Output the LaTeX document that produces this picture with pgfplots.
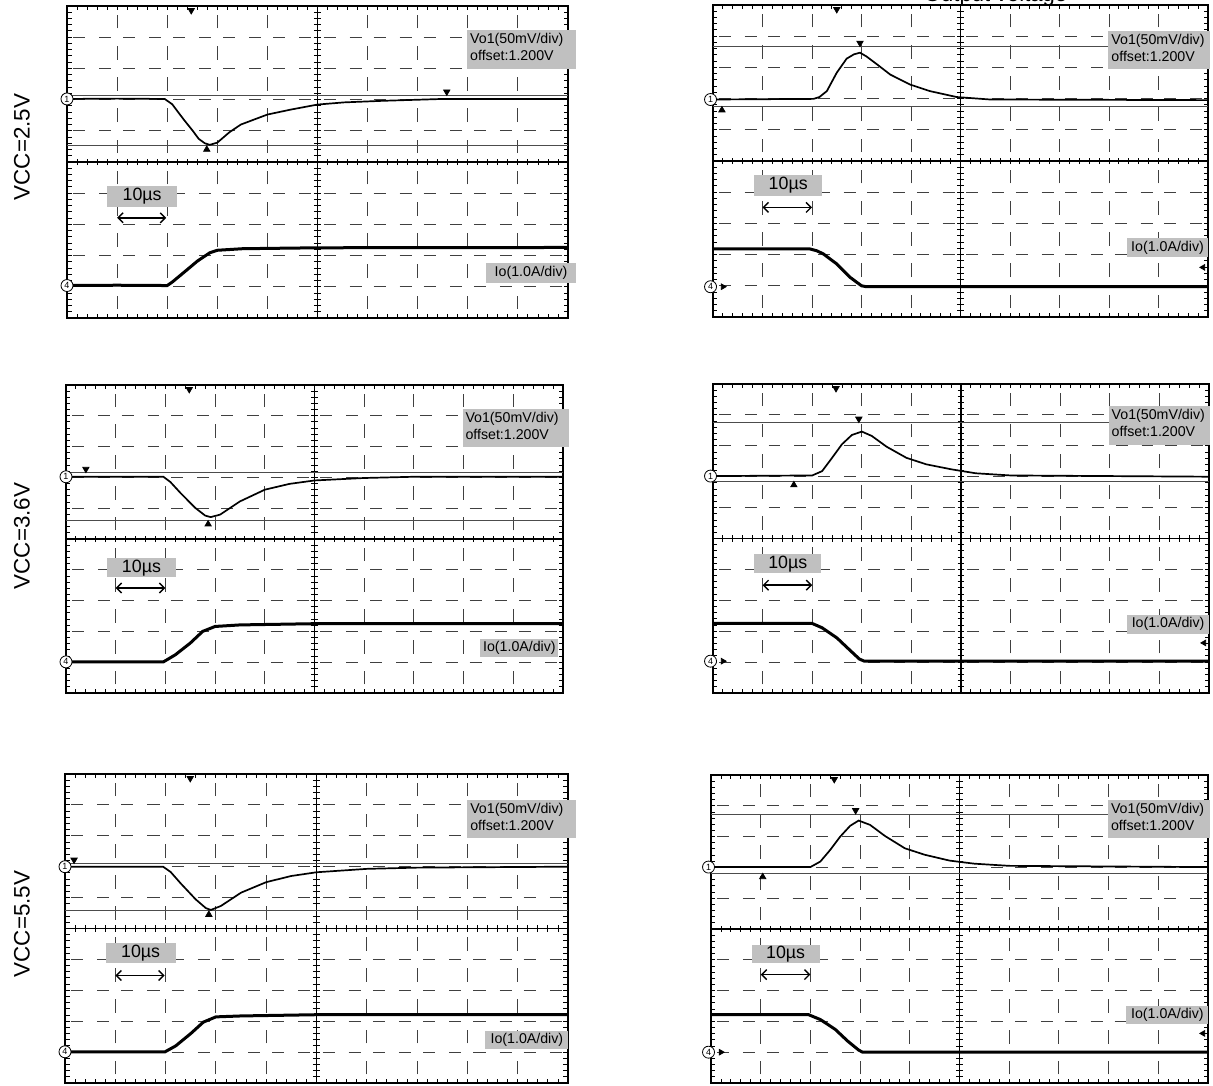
\documentclass[border=0pt]{standalone}
\usepackage{fontspec}
\setmainfont{Liberation Sans}
\usepackage{pgfplots}
\pgfplotsset{compat=1.18}
\usetikzlibrary{arrows.meta}
\definecolor{boxgray}{RGB}{192,192,192}
\newcommand\lbl{\fontsize{7.1}{8.4}\selectfont}
\newcommand\tfont{\fontsize{8.9}{10}\selectfont}

\newcommand\panel[4]{%
\begin{scope}[shift={(#1,#2)},x=#3,y=#4]
\foreach \i in {1,2,3,4,6,7,8,9}{\foreach \j in {0,...,9}{%
\draw[black!75,line width=0.5pt] (\j+0.12,\i)--(\j+0.36,\i) (\j+0.64,\i)--(\j+0.88,\i) (\i,\j+0.28)--(\i,\j+0.72);}}
\draw[black,line width=0.6pt] (5,0)--(5,10) (0,5)--(10,5);
\foreach \k in {1,...,49}{\draw[black,line width=0.45pt] (\k/5,0)--++(0,0.14) (\k/5,10)--++(0,-0.14) (\k/5,4.9)--(\k/5,5.1) (0,\k/5)--++(0.09,0) (10,\k/5)--++(-0.09,0) (4.93,\k/5)--(5.07,\k/5);}
\draw[black,line width=1pt] (0,0) rectangle (10,10);
\end{scope}}

\newcommand\vobox[4]{\node[fill=boxgray,anchor=north west,minimum width=#3,minimum height=#4,inner sep=0pt] (vb) at (axis cs:#1,#2) {};
\node[anchor=north west,align=left,inner sep=0pt,font=\lbl] at ([xshift=1.5pt,yshift=-1.6pt]vb.north west) {Vo1(50mV/div)\\offset:1.200V};}
\newcommand\tenus[4]{\node[fill=boxgray,anchor=north west,minimum width=#3,minimum height=#4,inner sep=0pt,font=\tfont] at (axis cs:#1,#2) {10µs};}
\newcommand\iobox[4]{\node[fill=boxgray,anchor=north west,minimum width=#3,minimum height=#4,inner sep=0pt,font=\lbl] at (axis cs:#1,#2) {Io(1.0A/div)};}
\newcommand\arr[2]{\draw[{Straight Barb[length=2.5pt,width=5pt]}-{Straight Barb[length=2.5pt,width=5pt]},line width=0.7pt] (axis cs:1.0,#1) -- (axis cs:#2,#1);}
\newcommand\chan[3]{\node[circle,draw,fill=white,inner sep=0pt,minimum size=6pt,font=\fontsize{4.5}{5}\selectfont,line width=0.4pt] at (axis cs:#1,#2) {#3};}
\newcommand\cursors[2]{\draw[black!70,line width=0.5pt] (axis cs:0,#1)--(axis cs:10,#1) (axis cs:0,#2)--(axis cs:10,#2);}
\newcommand\downmark[2]{\addplot[only marks,mark=triangle*,mark size=1.8pt,mark options={rotate=180,fill=black,draw=black}] coordinates {(#1,#2)};}
\newcommand\upmark[2]{\addplot[only marks,mark=triangle*,mark size=1.8pt,mark options={fill=black,draw=black}] coordinates {(#1,#2)};}
\newcommand\lmark[2]{\addplot[only marks,mark=triangle*,mark size=1.6pt,mark options={rotate=90,fill=black,draw=black}] coordinates {(#1,#2)};}
\newcommand\rmark[2]{\addplot[only marks,mark=triangle*,mark size=1.6pt,mark options={rotate=-90,fill=black,draw=black}] coordinates {(#1,#2)};}

\pgfplotsset{osc/.style={anchor=south west,scale only axis,xmin=0,xmax=10,ymin=-5,ymax=5,hide axis,clip=false},
vo/.style={black,line width=0.85pt,mark=none},
io/.style={black,line width=1.5pt,mark=none}}

\begin{document}
\begin{tikzpicture}
\useasboundingbox (0,0) rectangle (606.5pt,542.5pt);
% panel grids
\panel{33.5pt}{383.5pt}{25.05pt}{15.6pt}
\panel{356.5pt}{384pt}{24.75pt}{15.6pt}
\panel{33pt}{196pt}{24.85pt}{15.4pt}
\panel{356.5pt}{196pt}{24.8pt}{15.45pt}
\panel{32.5pt}{1pt}{25.15pt}{15.45pt}
\panel{355.5pt}{1pt}{24.85pt}{15.4pt}

\node[anchor=base west,font=\fontsize{11}{13}\selectfont] at (458.5pt,541.5pt) {Output voltage};
\node[rotate=90,font=\fontsize{11.2}{13}\selectfont] at (11pt,469pt) {VCC=2.5V};
\node[rotate=90,font=\fontsize{11.2}{13}\selectfont] at (11pt,274.5pt) {VCC=3.6V};
\node[rotate=90,font=\fontsize{11.2}{13}\selectfont] at (11pt,80.5pt) {VCC=5.5V};

% ---------- A: top left ----------
\begin{axis}[osc,at={(33.5pt,383.5pt)},width=250.5pt,height=156pt]
\cursors{2.13}{0.52}
\addplot[vo] coordinates {(0,2.02) (1.0,2.03) (1.95,2.02) (2.1,1.85) (2.33,1.36) (2.5,1.02) (2.63,0.74) (2.75,0.6) (2.85,0.55) (3.0,0.62) (3.24,0.95) (3.47,1.20) (4.0,1.52) (4.47,1.68) (5.0,1.84) (5.53,1.91) (6.3,1.96) (7.5,2.02) (10,2.02)};
\addplot[io] coordinates {(0,-3.96) (1.0,-3.95) (2.0,-3.96) (2.1,-3.85) (2.4,-3.45) (2.6,-3.18) (2.85,-2.91) (3.0,-2.83) (3.5,-2.78) (5,-2.75) (10,-2.74)};
\vobox{7.98}{4.24}{54.3pt}{19.7pt}
\tenus{0.8}{-0.76}{34.6pt}{10.3pt}
\iobox{8.36}{-3.23}{44.8pt}{9.7pt}
\arr{-1.79}{1.98}
\chan{0}{2.02}{1}\chan{0}{-3.96}{4}
\downmark{2.48}{4.86}\downmark{7.58}{2.25}\upmark{2.79}{0.40}
\end{axis}

% ---------- B: top right ----------
\begin{axis}[osc,at={(356.5pt,384pt)},width=247.5pt,height=156pt]
\cursors{3.66}{1.75}
\addplot[vo] coordinates {(0,1.97) (2.03,1.99) (2.15,2.05) (2.3,2.24) (2.5,2.83) (2.7,3.28) (2.85,3.42) (2.97,3.47) (3.1,3.35) (3.31,3.10) (3.58,2.77) (3.98,2.45) (4.38,2.24) (4.92,2.05) (5.6,1.97) (10,1.95)};
\addplot[io] coordinates {(0,-2.82) (1.96,-2.82) (2.1,-2.88) (2.23,-2.98) (2.5,-3.30) (2.77,-3.73) (3.0,-4.0) (3.1,-4.03) (10,-4.03)};
\vobox{7.98}{4.17}{50.7pt}{18.9pt}
\tenus{0.82}{-0.45}{34.2pt}{10.1pt}
\iobox{8.35}{-2.46}{40.8pt}{9.4pt}
\arr{-1.49}{2.0}
\chan{-0.05}{1.97}{1}\chan{-0.05}{-4.03}{4}\rmark{0.2}{-4.03}
\lmark{9.9}{-3.41}
\downmark{2.5}{4.86}\downmark{2.97}{3.78}\upmark{0.18}{1.63}
\end{axis}

% ---------- C: middle left ----------
\begin{axis}[osc,at={(33pt,196pt)},width=248.5pt,height=154pt]
\cursors{2.15}{0.60}
\addplot[vo] coordinates {(0,2.02) (1.96,2.02) (2.1,1.85) (2.3,1.50) (2.6,1.01) (2.8,0.76) (2.91,0.71) (3.1,0.79) (3.5,1.22) (4.0,1.60) (4.5,1.79) (5.0,1.90) (6,1.98) (7,2.02) (10,2.02)};
\addplot[io] coordinates {(0,-3.99) (1.96,-3.99) (2.2,-3.76) (2.5,-3.38) (2.75,-3.0) (3.0,-2.84) (3.5,-2.79) (5,-2.75) (10,-2.75)};
\vobox{7.97}{4.23}{53pt}{19pt}
\tenus{0.81}{-0.62}{34.8pt}{9.5pt}
\iobox{8.33}{-3.22}{39pt}{9pt}
\arr{-1.59}{2.0}
\chan{0}{2.02}{1}\chan{0}{-3.99}{4}
\downmark{2.48}{4.86}\downmark{0.4}{2.27}\upmark{2.86}{0.48}
\end{axis}

% ---------- D: middle right ----------
\begin{axis}[osc,at={(356.5pt,196pt)},width=248pt,height=154.5pt]
\cursors{3.75}{1.85}
\addplot[vo] coordinates {(0,2.02) (2.0,2.04) (2.2,2.18) (2.4,2.61) (2.6,3.05) (2.8,3.35) (3.0,3.46) (3.2,3.32) (3.5,2.97) (3.9,2.61) (4.3,2.40) (4.8,2.24) (5.3,2.11) (6,2.04) (10,2.0)};
\addplot[io] coordinates {(0,-2.75) (2.0,-2.75) (2.2,-2.89) (2.5,-3.22) (2.75,-3.6) (2.95,-3.9) (3.05,-3.97) (10,-3.97)};
\vobox{7.97}{4.3}{50.8pt}{19.5pt}
\tenus{0.82}{-0.5}{33.7pt}{9.4pt}
\iobox{8.34}{-2.46}{41pt}{9.3pt}
\arr{-1.51}{2.0}
\chan{-0.05}{2.02}{1}\chan{-0.05}{-3.97}{4}\rmark{0.2}{-3.97}
\lmark{9.9}{-3.38}
\downmark{2.48}{4.86}\downmark{2.94}{3.87}\upmark{1.63}{1.73}
\end{axis}

% ---------- E: bottom left ----------
\begin{axis}[osc,at={(32.5pt,1pt)},width=251.5pt,height=154.5pt]
\cursors{2.10}{0.57}
\addplot[vo] coordinates {(0,2.0) (1.95,2.0) (2.1,1.83) (2.3,1.46) (2.6,0.94) (2.8,0.66) (2.9,0.60) (3.1,0.73) (3.5,1.16) (4.0,1.50) (4.5,1.70) (5.0,1.82) (6,1.93) (7,1.97) (10,2.0)};
\addplot[io] coordinates {(0,-3.99) (1.99,-3.99) (2.2,-3.80) (2.5,-3.40) (2.75,-3.03) (3.0,-2.86) (3.5,-2.83) (5,-2.79) (10,-2.79)};
\vobox{7.99}{4.18}{54.3pt}{18.9pt}
\tenus{0.8}{-0.47}{35pt}{10pt}
\iobox{8.35}{-3.29}{41.5pt}{9.1pt}
\arr{-1.52}{1.98}
\chan{0}{2.0}{1}\chan{0}{-3.99}{4}
\downmark{2.49}{4.86}\downmark{0.18}{2.22}\upmark{2.86}{0.45}
\end{axis}

% ---------- F: bottom right ----------
\begin{axis}[osc,at={(355.5pt,1pt)},width=248.5pt,height=154pt]
\cursors{3.73}{1.81}
\addplot[vo] coordinates {(0,2.01) (2.0,2.01) (2.2,2.19) (2.4,2.57) (2.6,3.0) (2.8,3.35) (2.97,3.52) (3.2,3.38) (3.5,3.02) (3.9,2.62) (4.3,2.41) (4.8,2.22) (5.3,2.12) (6,2.05) (10,2.01)};
\addplot[io] coordinates {(0,-2.78) (1.96,-2.78) (2.2,-2.94) (2.5,-3.26) (2.75,-3.64) (2.97,-3.93) (3.05,-4.0) (10,-4.0)};
\vobox{7.98}{4.21}{51pt}{19pt}
\tenus{0.81}{-0.51}{34pt}{9.1pt}
\iobox{8.35}{-2.48}{41pt}{9.2pt}
\arr{-1.48}{2.0}
\chan{-0.05}{2.01}{1}\chan{-0.05}{-4.0}{4}\rmark{0.2}{-4.0}
\lmark{9.9}{-3.39}
\downmark{2.48}{4.86}\downmark{2.91}{3.85}\upmark{1.04}{1.69}
\end{axis}
\end{tikzpicture}
\end{document}
